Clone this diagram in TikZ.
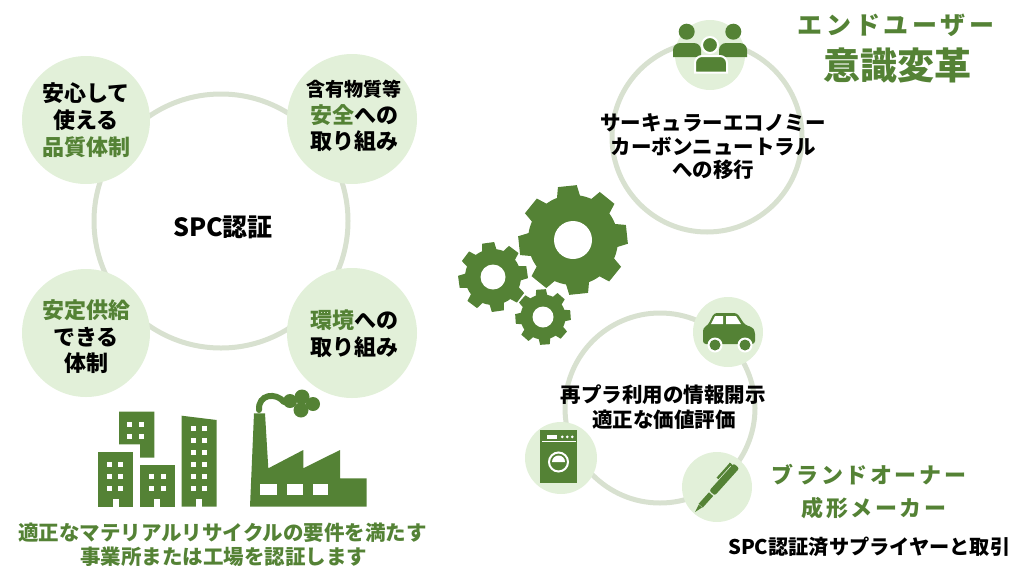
\documentclass[tikz,border=0pt]{standalone}
\usepackage{fontspec}
\setmainfont{Noto Sans CJK JP}
\definecolor{leaf}{HTML}{548235}
\definecolor{mist}{HTML}{E2F0D9}
\definecolor{ringline}{HTML}{D8E1D0}

% cog: centre x, centre y, teeth, outer radius, root radius, hole radius, turn
\newcommand{\cogwheel}[7]{%
  \pgfmathsetmacro{\cogpitch}{360/#3}
  \pgfmathsetmacro{\cogtop}{0.22*\cogpitch}
  \pgfmathsetmacro{\cogbase}{0.33*\cogpitch}
  \fill[leaf, shift={(#1,#2)}, rotate=#7] ({-\cogbase}:#5)
    \foreach \k in {1,...,#3}{
      -- ({(\k-1)*\cogpitch-\cogtop}:#4)
      -- ({(\k-1)*\cogpitch+\cogtop}:#4)
      -- ({(\k-1)*\cogpitch+\cogbase}:#5)
      arc[start angle={(\k-1)*\cogpitch+\cogbase}, end angle={\k*\cogpitch-\cogbase}, radius=#5]
    } -- cycle;
  \fill[white] (#1,#2) circle (#6);
}

\begin{document}
\begin{tikzpicture}[x=1pt, y=-1pt,
  ring/.style={circle, draw=ringline, line width=5pt, inner sep=0pt, minimum size=#1},
  bubble/.style={circle, fill=mist, inner sep=0pt, minimum size=#1},
  lab/.style={inner sep=0pt, font=\bfseries\fontsize{22}{26}\selectfont},
  labs/.style={inner sep=0pt, font=\bfseries\fontsize{19}{23}\selectfont},
  mid/.style={inner sep=0pt, font=\bfseries\fontsize{20.5}{24}\selectfont},
  note/.style={inner sep=0pt, text=leaf, font=\bfseries\fontsize{20.5}{24}\selectfont},
  head/.style={inner sep=0pt, text=leaf, font=\bfseries\fontsize{25}{30}\selectfont\addfontfeature{LetterSpace=15}},
  brand/.style={inner sep=0pt, text=leaf, font=\bfseries\fontsize{22}{26}\selectfont\addfontfeature{LetterSpace=12}},
  win/.style={fill=white},
]
\useasboundingbox (0,0) rectangle (1011,568);

% ---------- SPC certification ring ----------
\node[ring=254pt] (spc) at (221,221) {};
\node[bubble=128pt] (b1) at (86,120) {};
\node[bubble=130pt] (b2) at (352,119) {};
\node[bubble=128pt] (b3) at (86,333) {};
\node[bubble=130pt] (b4) at (352,333) {};

\node[lab] (b1a) at (86,93) {安心して};
\node[lab] (b1b) at (86,120) {使える};
\node[lab, text=leaf] (b1c) at (86,147) {品質体制};
\node[labs] (b2a) at (354,89) {含有物質等};
\node[lab] (b2b) at (354,115) {\textcolor{leaf}{安全}への};
\node[lab] (b2c) at (354,141) {取り組み};
\node[lab, text=leaf] (b3a) at (86,310) {安定供給};
\node[lab] (b3b) at (86,337) {できる};
\node[lab] (b3c) at (86,363) {体制};
\node[lab] (b4a) at (354,320) {\textcolor{leaf}{環境}への};
\node[lab] (b4b) at (354,347) {取り組み};
\node[inner sep=0pt, font=\bfseries\fontsize{25}{30}\selectfont] (spct) at (223,227) {SPC認証};

% ---------- office buildings ----------
\fill[leaf] (98.3,452) rectangle (133.3,506.7);
\fill[leaf] (119,411.7) -- (154.3,411.7) -- (154.3,457.7) -- (140,457.7) -- (140,444.3) -- (119,444.3) -- cycle;
\fill[leaf] (140,465) rectangle (175,506.7);
\fill[leaf] (181.7,415.7) -- (216.7,420) -- (216.7,506.7) -- (181.7,506.7) -- cycle;
\foreach \wx in {106.7,118.3} \foreach \wy in {462,474,486} \fill[win] (\wx,\wy) rectangle ++(5,5);
\foreach \wx in {127.3,139.3} \foreach \wy in {421.7,434.3} \fill[win] (\wx,\wy) rectangle ++(5,5);
\foreach \wx in {149,160.7} \foreach \wy in {474,486} \fill[win] (\wx,\wy) rectangle ++(5,5);
\foreach \wx in {190.7,202.3} \foreach \wy in {426,438,450,462,474,486} \fill[win] (\wx,\wy) rectangle ++(5,5);
\fill[win] (113.3,499) rectangle (119,507);
\fill[win] (154.3,499) rectangle (160,507);
\fill[win] (195.7,499) rectangle (201.7,507);

% ---------- factory ----------
\fill[leaf] (254,413.3) -- (265,413.3) -- (268.3,468.3) -- (303.3,450) -- (303.3,468.3)
  -- (340,450) -- (340,478.3) -- (366.7,478.3) -- (366.7,506.7) -- (250,506.7) -- cycle;
\fill[win] (260,484) rectangle (276.7,495);
\fill[win] (286.7,484) rectangle (303.3,495);
\fill[win] (313.3,484) rectangle (328.3,495);
\draw[leaf, line width=6pt, line cap=round] (259,410) .. controls (258,394) and (276,392) .. (284,402);
\fill[leaf] (290,401) circle (7);
\fill[leaf] (302,397) circle (7.5);
\fill[leaf] (313,404) circle (7);
\fill[leaf] (301,410) circle (7.5);

\node[note] (n1) at (222.5,533) {適正なマテリアルリサイクルの要件を満たす};
\node[note] (n2) at (223.5,557) {事業所または工場を認証します};

% ---------- gears ----------
\cogwheel{573}{240}{8}{55}{45}{19}{6}
\cogwheel{493}{277}{8}{35}{28}{12.5}{8}
\cogwheel{543}{317}{8}{28}{22.5}{10.5}{4}

% ---------- end users ----------
\node[ring=190pt] (eco) at (707,137) {};
\node[bubble=70pt] (crowd) at (710,55) {};
\fill[leaf] (686.7,31.7) circle (8);
\fill[leaf] (733.3,31.7) circle (8);
\fill[leaf] (673,57) [rounded corners=7pt] -- (673,43) -- (701,43) [sharp corners] -- (701,57) -- cycle;
\fill[leaf] (719,57) [rounded corners=7pt] -- (719,43) -- (747,43) [sharp corners] -- (747,57) -- cycle;
\filldraw[fill=leaf, draw=white, line width=2pt] (710,45) circle (8);
\filldraw[fill=leaf, draw=white, line width=2pt] (695,72.5) [rounded corners=7pt] -- (695,56) -- (727,56) [sharp corners] -- (727,72.5) -- cycle;

\node[mid] (e1) at (713,123) {サーキュラーエコノミー};
\node[mid] (e2) at (713,147) {カーボンニュートラル};
\node[mid] (e3) at (713,170) {への移行};
\node[head] (u1) at (896,25) {エンドユーザー};
\node[inner sep=0pt, text=leaf, font=\bfseries\fontsize{37}{40}\selectfont] (u2) at (897,65) {意識変革};

% ---------- brand owners ----------
\node[ring=190pt] (loop) at (660,408) {};
\node[bubble=70pt] (carb) at (728,332) {};
\node[bubble=72pt] (washb) at (561,458) {};
\node[bubble=70pt] (penb) at (717,487) {};

% car
\fill[leaf, rounded corners=3pt] (703,344) -- (703,328) -- (708,325) -- (714,313) -- (737,313) -- (745,325) -- (752,327) -- (755,331) -- (755,344) -- cycle;
\fill[win] (711,324) -- (715,316) -- (723,316) -- (723,324) -- cycle;
\fill[win] (726,316) -- (736,316) -- (741,324) -- (726,324) -- cycle;
\foreach \cx in {715,745} {
  \fill[white] (\cx,345) circle (7.5);
  \fill[leaf] (\cx,345) circle (5.5);
}

% washing machine
\fill[leaf] (540,430) rectangle (577,483);
\fill[win] (541.5,441.2) rectangle (575.5,442.2);
\fill[win] (546.7,435) rectangle (557.2,438.8);
\foreach \dx in {562.3,567.3,572.3} \fill[white] (\dx,436.9) circle (1.5);
\draw[white, line width=2pt] (558.5,462) circle (9.5);
\fill[white] (552,462) arc[start angle=180, end angle=360, radius=6.5] -- cycle;

% pen
\begin{scope}[shift={(695,512)}, rotate=48]
  \fill[leaf] (0,0) -- (8,-2.2) -- (8,2.2) -- cycle;
  \fill[leaf] (8.5,-2.8) rectangle (24,2.8);
  \fill[leaf, rounded corners=2pt] (25.5,-3.7) rectangle (62,3.7);
  \fill[leaf] (40,-7) rectangle (60,-4.6);
  \fill[leaf] (58,-7) rectangle (60,-3.5);
\end{scope}

\node[mid] (r1) at (663,395) {再プラ利用の情報開示};
\node[mid] (r2) at (664,420) {適正な価値評価};
\node[brand] (o1) at (869,475) {ブランドオーナー};
\node[brand] (o2) at (874,508) {成形メーカー};
\node[inner sep=0pt, anchor=west, font=\bfseries\fontsize{20.2}{22}\selectfont] (o3) at (728,547) {SPC認証済サプライヤーと取引};
\end{tikzpicture}
\end{document}
